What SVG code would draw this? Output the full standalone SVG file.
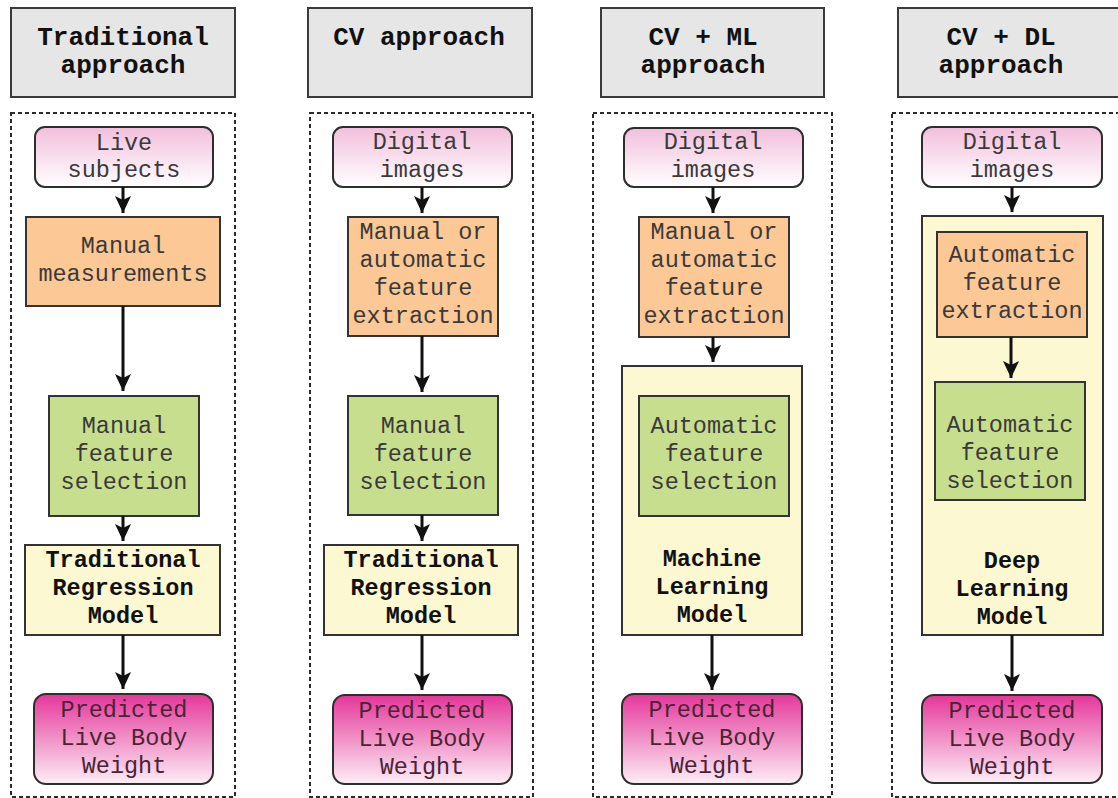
<svg xmlns="http://www.w3.org/2000/svg" width="1118" height="798" viewBox="0 0 1118 798">
<style>
.hdr{fill:#e6e6e6;stroke:#3a3a3a;stroke-width:2}
.cont{fill:#ffffff;stroke:#2a2a2a;stroke-width:2;stroke-dasharray:4 3}
.inp{fill:url(#gPink);stroke:#2e2e2e;stroke-width:2}
.out{fill:url(#gMag);stroke:#2e2e2e;stroke-width:2}
.ora{fill:#fbc896;stroke:#333;stroke-width:2}
.grn{fill:#c8de8f;stroke:#333;stroke-width:2}
.yel{fill:#fbf8d2;stroke:#333;stroke-width:2}
text{font-family:"Liberation Mono","Courier New",monospace;text-anchor:middle}
.th{font-size:26px;font-weight:bold;fill:#111}
.t{font-size:23.5px;fill:#3a3a3a}
.tb{font-size:23.5px;font-weight:bold;fill:#111}
.tp{font-size:23.5px;fill:#4a2436}
.arr{stroke:#111;stroke-width:3;fill:none;marker-end:url(#ah)}
</style>
<defs>
<linearGradient id="gPink" x1="0" y1="0" x2="0" y2="1">
<stop offset="0" stop-color="#f2bfdc"/>
<stop offset="1" stop-color="#ffffff"/>
</linearGradient>
<linearGradient id="gMag" x1="0" y1="0" x2="0" y2="1">
<stop offset="0" stop-color="#e4379a"/>
<stop offset="1" stop-color="#fdeef6"/>
</linearGradient>
<marker id="ah" markerUnits="userSpaceOnUse" markerWidth="18" markerHeight="16" refX="17" refY="8" orient="auto">
<path d="M0,0 L17,8 L0,16 L4,8 z" fill="#111"/>
</marker>
</defs>
<rect width="1118" height="798" fill="#ffffff"/>

<!-- Column 1 -->
<g id="col1-header">
<rect class="hdr" x="11" y="8" width="224" height="89"/>
<text class="th" x="123" y="45">Traditional</text>
<text class="th" x="123" y="73">approach</text>
</g>
<g id="col1-container"><rect class="cont" x="11" y="113" width="224" height="684"/></g>
<g id="col1-input">
<rect class="inp" x="35" y="127" width="178" height="60" rx="10"/>
<text class="t" x="124" y="150">Live</text>
<text class="t" x="124" y="177">subjects</text>
</g>
<g id="col1-extract">
<rect class="ora" x="26" y="217" width="194" height="89"/>
<text class="t" x="123" y="253">Manual</text>
<text class="t" x="123" y="281">measurements</text>
</g>
<g id="col1-select">
<rect class="grn" x="49" y="396" width="150" height="120"/>
<text class="t" x="124" y="433">Manual</text>
<text class="t" x="124" y="461">feature</text>
<text class="t" x="124" y="489">selection</text>
</g>
<g id="col1-model">
<rect class="yel" x="25" y="545" width="195" height="90"/>
<text class="tb" x="123" y="567">Traditional</text>
<text class="tb" x="123" y="595">Regression</text>
<text class="tb" x="123" y="623">Model</text>
</g>
<g id="col1-output">
<rect class="out" x="34" y="694" width="179" height="90" rx="12"/>
<text class="tp" x="124" y="717">Predicted</text>
<text class="tp" x="124" y="745">Live Body</text>
<text class="tp" x="124" y="773">Weight</text>
</g>

<!-- Column 2 -->
<g id="col2-header">
<rect class="hdr" x="308" y="8" width="224" height="89"/>
<text class="th" x="419" y="45">CV approach</text>
</g>
<g id="col2-container"><rect class="cont" x="310" y="113" width="223" height="684"/></g>
<g id="col2-input">
<rect class="inp" x="333" y="127" width="179" height="60" rx="10"/>
<text class="t" x="422" y="149">Digital</text>
<text class="t" x="422" y="177">images</text>
</g>
<g id="col2-extract">
<rect class="ora" x="348" y="217" width="150" height="119"/>
<text class="t" x="423" y="239">Manual or</text>
<text class="t" x="423" y="267">automatic</text>
<text class="t" x="423" y="295">feature</text>
<text class="t" x="423" y="323">extraction</text>
</g>
<g id="col2-select">
<rect class="grn" x="348" y="396" width="150" height="119"/>
<text class="t" x="423" y="433">Manual</text>
<text class="t" x="423" y="461">feature</text>
<text class="t" x="423" y="489">selection</text>
</g>
<g id="col2-model">
<rect class="yel" x="324" y="545" width="194" height="90"/>
<text class="tb" x="421" y="567">Traditional</text>
<text class="tb" x="421" y="595">Regression</text>
<text class="tb" x="421" y="623">Model</text>
</g>
<g id="col2-output">
<rect class="out" x="333" y="695" width="179" height="89" rx="12"/>
<text class="tp" x="422" y="718">Predicted</text>
<text class="tp" x="422" y="746">Live Body</text>
<text class="tp" x="422" y="774">Weight</text>
</g>

<!-- Column 3 -->
<g id="col3-header">
<rect class="hdr" x="601" y="8" width="223" height="89"/>
<text class="th" x="703" y="45">CV + ML</text>
<text class="th" x="703" y="73">approach</text>
</g>
<g id="col3-container"><rect class="cont" x="593" y="113" width="239" height="684"/></g>
<g id="col3-input">
<rect class="inp" x="624" y="128" width="179" height="59" rx="10"/>
<text class="t" x="713" y="149">Digital</text>
<text class="t" x="713" y="177">images</text>
</g>
<g id="col3-extract">
<rect class="ora" x="639" y="217" width="150" height="120"/>
<text class="t" x="714" y="239">Manual or</text>
<text class="t" x="714" y="267">automatic</text>
<text class="t" x="714" y="295">feature</text>
<text class="t" x="714" y="323">extraction</text>
</g>
<g id="col3-model">
<rect class="yel" x="622" y="366" width="180" height="269"/>
<text class="tb" x="712" y="566">Machine</text>
<text class="tb" x="712" y="594">Learning</text>
<text class="tb" x="712" y="622">Model</text>
</g>
<g id="col3-select">
<rect class="grn" x="639" y="396" width="150" height="120"/>
<text class="t" x="714" y="433">Automatic</text>
<text class="t" x="714" y="461">feature</text>
<text class="t" x="714" y="489">selection</text>
</g>
<g id="col3-output">
<rect class="out" x="622" y="694" width="180" height="90" rx="12"/>
<text class="tp" x="712" y="717">Predicted</text>
<text class="tp" x="712" y="745">Live Body</text>
<text class="tp" x="712" y="773">Weight</text>
</g>

<!-- Column 4 -->
<g id="col4-header">
<rect class="hdr" x="898" y="8" width="224" height="89"/>
<text class="th" x="1001" y="45">CV + DL</text>
<text class="th" x="1001" y="73">approach</text>
</g>
<g id="col4-container"><rect class="cont" x="892" y="113" width="239" height="684"/></g>
<g id="col4-input">
<rect class="inp" x="922" y="127" width="180" height="60" rx="10"/>
<text class="t" x="1012" y="149">Digital</text>
<text class="t" x="1012" y="177">images</text>
</g>
<g id="col4-model">
<rect class="yel" x="922" y="216" width="181" height="419"/>
<text class="tb" x="1012" y="568">Deep</text>
<text class="tb" x="1012" y="596">Learning</text>
<text class="tb" x="1012" y="624">Model</text>
</g>
<g id="col4-extract">
<rect class="ora" x="937" y="232" width="150" height="105"/>
<text class="t" x="1012" y="262">Automatic</text>
<text class="t" x="1012" y="290">feature</text>
<text class="t" x="1012" y="318">extraction</text>
</g>
<g id="col4-select">
<rect class="grn" x="935" y="382" width="150" height="118"/>
<text class="t" x="1010" y="432">Automatic</text>
<text class="t" x="1010" y="460">feature</text>
<text class="t" x="1010" y="488">selection</text>
</g>
<g id="col4-output">
<rect class="out" x="922" y="695" width="180" height="88" rx="12"/>
<text class="tp" x="1012" y="718">Predicted</text>
<text class="tp" x="1012" y="746">Live Body</text>
<text class="tp" x="1012" y="774">Weight</text>
</g>

<!-- Connectors -->
<g id="connectors">
<line class="arr" x1="123" y1="187" x2="123" y2="213"/>
<line class="arr" x1="123" y1="306" x2="123" y2="391"/>
<line class="arr" x1="123" y1="516" x2="123" y2="541"/>
<line class="arr" x1="123" y1="635" x2="123" y2="689"/>

<line class="arr" x1="422" y1="187" x2="422" y2="213"/>
<line class="arr" x1="422" y1="336" x2="422" y2="392"/>
<line class="arr" x1="422" y1="515" x2="422" y2="541"/>
<line class="arr" x1="422" y1="635" x2="422" y2="690"/>

<line class="arr" x1="713" y1="187" x2="713" y2="213"/>
<line class="arr" x1="713" y1="337" x2="713" y2="362"/>
<line class="arr" x1="712" y1="635" x2="712" y2="690"/>

<line class="arr" x1="1012" y1="187" x2="1012" y2="212"/>
<line class="arr" x1="1011" y1="337" x2="1011" y2="378"/>
<line class="arr" x1="1012" y1="635" x2="1012" y2="691"/>
</g>
</svg>
